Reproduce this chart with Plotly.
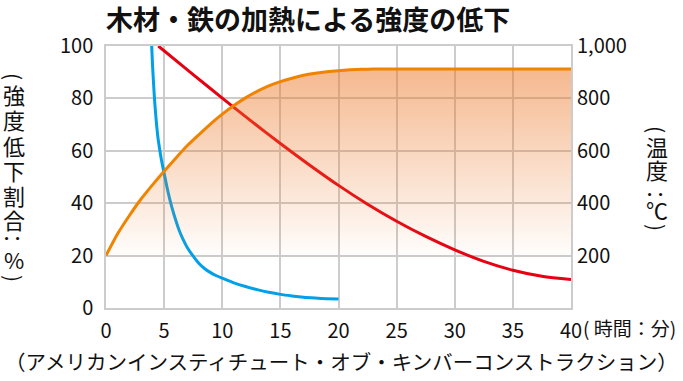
import plotly.graph_objects as go

# ---- data ----
temp_time = [0, 1, 2, 3, 4, 5, 6, 7, 8, 9, 10, 11, 12, 13, 14, 15, 16, 17, 18, 19, 20, 21, 22, 23, 24, 40]
temp_c = [200, 283, 352, 415, 470, 522, 572, 620, 662, 703, 740, 773, 802, 827, 848, 864, 877, 888, 896, 902, 906, 909, 911, 912, 912, 912]

red_time = [4.5, 7.5, 10, 12.5, 15, 17.5, 20, 22.5, 25, 27.5, 30, 32.5, 35, 37.5, 40]
red_pct = [100, 89.1, 80.1, 71.3, 62.8, 54.6, 46.8, 39.6, 33.1, 27.3, 22.2, 17.8, 14.4, 12.1, 10.9]

blue_time = [3.93, 4.0, 4.1, 4.2, 4.35, 4.5, 4.75, 5.0, 5.3, 5.65, 6.0, 6.3, 6.65, 7.0, 7.5, 8.0,
             8.5, 9.0, 9.5, 10.1, 11, 12, 13, 14, 15, 16, 17, 18, 19, 20]
blue_pct = [100, 93, 85, 78, 70, 64, 57, 51.4, 45, 38.7, 33.5, 29.6, 26, 23, 19.8, 17,
            15, 13.5, 12.3, 11.2, 9.6, 8.2, 7.0, 6.0, 5.2, 4.6, 4.1, 3.8, 3.55, 3.4]

x_ticks = [0, 5, 10, 15, 20, 25, 30, 35, 40]
left_ticks = [0, 20, 40, 60, 80, 100]
right_ticks = [200, 400, 600, 800, 1000]
right_ticktext = ["200", "400", "600", "800", "1,000"]

title_text = "木材・鉄の加熱による強度の低下"
source_text = "（アメリカンインスティチュート・オブ・キンバーコンストラクション）"
x_unit_text = "( 時間：分)"
left_label_chars = ["(", "強", "度", "低", "下", "割", "合", "：", "%", ")"]
right_label_chars = ["(", "温", "度", "：", "℃", ")"]
ROTATED = {"(", ")", "："}

# ---- layout constants (page pixels) ----
W, H = 683, 381
L, R, T, B = 106, 571, 46, 308
FONT = "Noto Sans CJK JP"
ORANGE = "#F08300"
RED = "#E60012"
BLUE = "#00A0E9"
GRID = "#CCCCCC"
TXT = "#111111"


def px(xp):
    return (xp - L) / (R - L)


def py(yp):
    return (B - yp) / (B - T)


fig = go.Figure()

fig.add_trace(go.Scatter(
    x=temp_time, y=temp_c, yaxis="y2", mode="lines",
    line=dict(color=ORANGE, width=3, shape="spline", smoothing=0.6),
    fill="tozeroy",
    fillgradient=dict(type="vertical", start=180, stop=912,
                      colorscale=[[0, "rgba(236,120,40,0)"], [1, "rgba(236,120,40,0.52)"]]),
    hoverinfo="skip", showlegend=False,
))
fig.add_trace(go.Scatter(
    x=red_time, y=red_pct, mode="lines",
    line=dict(color=RED, width=3, shape="spline", smoothing=0.8),
    showlegend=False,
))
fig.add_trace(go.Scatter(
    x=blue_time, y=blue_pct, mode="lines",
    line=dict(color=BLUE, width=3, shape="spline", smoothing=0.6),
    showlegend=False,
))

annotations = [
    dict(text=f"<b>{title_text}</b>", x=px(308), y=py(18), xref="paper", yref="paper",
         showarrow=False, font=dict(size=27, color=TXT), xanchor="center", yanchor="middle"),
    dict(text=source_text, x=px(341), y=py(361), xref="paper", yref="paper",
         showarrow=False, font=dict(size=20.5, color=TXT), xanchor="center", yanchor="middle",
         borderpad=0),
    dict(text=x_unit_text, x=px(581), y=py(327), xref="paper", yref="paper",
         showarrow=False, font=dict(size=19, color=TXT), xanchor="left", yanchor="middle"),
]


def vchar(ch, xx, yy):
    rot = ch in ROTATED
    return dict(text=ch, x=px(xx), y=py(yy), xref="paper", yref="paper",
                showarrow=False, font=dict(size=22 if not rot else 21, color=TXT),
                textangle=90 if rot else 0, borderpad=0,
                xanchor="center", yanchor="middle")


left_y = [76, 94, 119, 145, 170, 195, 219, 238, 259, 278]
for ch, yy in zip(left_label_chars, left_y):
    annotations.append(vchar(ch, 14, yy))
right_y = [129, 146, 169, 194, 209, 227]
for ch, yy in zip(right_label_chars, right_y):
    annotations.append(vchar(ch, 657, yy))

fig.update_layout(
    width=W, height=H,
    margin=dict(l=L, r=W - R, t=T, b=H - B, pad=0, autoexpand=False),
    paper_bgcolor="white", plot_bgcolor="white",
    font=dict(family=FONT, size=20, color=TXT),
    xaxis=dict(range=[0, 40], tickvals=x_ticks, showgrid=True, gridcolor=GRID, gridwidth=1.5,
               showline=True, linecolor=GRID, linewidth=1.5, mirror=True, zeroline=False,
               ticks="", ticklabelstandoff=4, tickfont=dict(size=20), automargin=False),
    yaxis=dict(range=[0, 100], tickvals=left_ticks, showgrid=True, gridcolor=GRID, gridwidth=1.5,
               showline=True, linecolor=GRID, linewidth=1.5, mirror=True, zeroline=False,
               ticks="", ticklabelstandoff=7, tickfont=dict(size=20), automargin=False),
    yaxis2=dict(range=[0, 1000], overlaying="y", side="right", tickvals=right_ticks,
                ticktext=right_ticktext, showgrid=False, zeroline=False, showline=False,
                ticks="", ticklabelstandoff=5, tickfont=dict(size=20), automargin=False),
    annotations=annotations,
)

fig.write_html(
    "out.html",
    config={"displayModeBar": False},
    post_script="document.body.style.margin='0px';document.body.style.padding='0px';"
                "document.body.style.overflow='hidden';",
)
